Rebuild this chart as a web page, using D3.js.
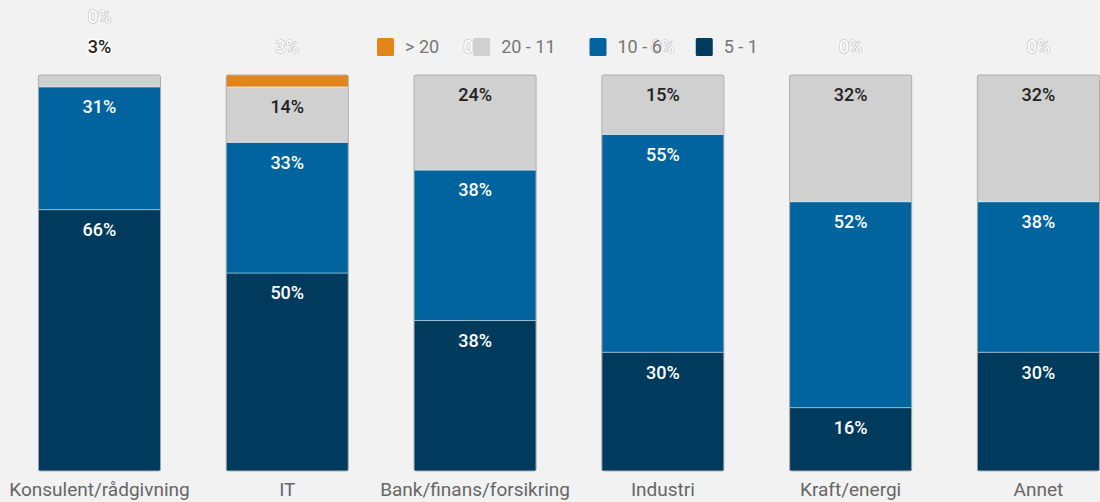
<!DOCTYPE html>
<html>
<head>
<meta charset="utf-8">
<script src="https://cdn.jsdelivr.net/npm/d3@7"></script>
<style>
  html, body { margin: 0; padding: 0; background: #f2f2f2; }
  svg { display: block; font-family: Roboto, "Noto Sans", sans-serif; }
</style>
</head>
<body>
<svg id="chart"></svg>
<script>
// ── data ────────────────────────────────────────────────────────────────
const categories = ['Konsulent/rådgivning', 'IT', 'Bank/finans/forsikring', 'Industri', 'Kraft/energi', 'Annet'];
const seriesNames = ['5 - 1', '10 - 6', '20 - 11', '> 20'];   // bottom → top
const v5to1   = [66, 50, 38, 30, 16, 30];
const v10to6  = [31, 33, 38, 55, 52, 38];
const v20to11 = [3, 14, 24, 15, 32, 32];
const vOver20 = [0, 3, 0, 0, 0, 0];
const legendOrder = ['> 20', '20 - 11', '10 - 6', '5 - 1'];

const COLORS = { '5 - 1': '#003a5c', '10 - 6': '#01649f', '20 - 11': '#d0d0d0', '> 20': '#e2861b' };
const LABEL_COLORS = { '5 - 1': '#ffffff', '10 - 6': '#ffffff', '20 - 11': '#222222', '> 20': '#ffffff' };

const W = 1100, H = 502;
const svg = d3.select('#chart').attr('width', W).attr('height', H);

const rows = categories.map((c, i) => ({
  cat: c, '5 - 1': v5to1[i], '10 - 6': v10to6[i], '20 - 11': v20to11[i], '> 20': vOver20[i],
}));
const stacked = d3.stack().keys(seriesNames)(rows);

const x = d3.scaleBand().domain(categories).range([6.5, 1131.4])
  .paddingInner(0.35).paddingOuter(0.17);
const y = d3.scaleLinear().domain([0, 100]).range([471, 75]);

// ── bars ────────────────────────────────────────────────────────────────
const g = svg.append('g');
stacked.forEach(s => {
  g.append('g').selectAll('rect').data(s).join('rect')
    .attr('x', d => x(d.data.cat))
    .attr('y', d => y(d[1]))
    .attr('width', x.bandwidth())
    .attr('height', d => Math.max(0, y(d[0]) - y(d[1])))
    .attr('fill', COLORS[s.key])
    .attr('stroke', 'rgba(255,255,255,0.4)')
    .attr('stroke-width', 1);
});
// thin outline round each whole bar
g.append('g').selectAll('rect').data(categories).join('rect')
  .attr('x', d => x(d)).attr('y', y(100))
  .attr('width', x.bandwidth()).attr('height', y(0) - y(100))
  .attr('fill', 'none').attr('stroke', '#9c9c9c').attr('stroke-width', 0.8).attr('rx', 2);

// ── data labels: inside the segment top, or stacked above the bar if too small ─
const labels = [];
categories.forEach((c, i) => {
  let slot = 0;
  stacked.forEach(s => {
    const d = s[i];
    const v = d[1] - d[0];
    const cx = x(c) + x.bandwidth() / 2;
    if (v >= 5) {
      labels.push({ x: cx, y: y(d[1]) + 20, text: v + '%', key: s.key, outside: false });
    } else {
      labels.push({ x: cx, y: y(100) - 28 - slot * 30, text: v + '%', key: s.key, outside: true });
      slot++;
    }
  });
});

svg.append('g').selectAll('text').data(labels).join('text')
  .attr('x', d => d.x).attr('y', d => d.y)
  .attr('dy', '0.35em')
  .attr('text-anchor', 'middle')
  .attr('font-size', 18)
  .attr('font-weight', 500)
  .attr('fill', d => LABEL_COLORS[d.key])
  .attr('stroke', d => d.outside ? (LABEL_COLORS[d.key] === '#ffffff' ? '#b0b0b0' : '#ffffff') : 'none')
  .attr('stroke-width', d => d.outside ? (LABEL_COLORS[d.key] === '#ffffff' ? 1 : 3) : 0)
  .attr('stroke-linejoin', 'round')
  .attr('paint-order', 'stroke')
  .text(d => d.text);

// ── category axis ───────────────────────────────────────────────────────
const xAxis = svg.append('g').attr('transform', `translate(0, ${y(0)})`)
  .call(d3.axisBottom(x).tickSize(0).tickPadding(12));
xAxis.select('.domain').remove();
xAxis.selectAll('text')
  .attr('font-family', 'Roboto, "Noto Sans", sans-serif')
  .attr('font-size', 19)
  .attr('fill', '#666');

// ── legend ──────────────────────────────────────────────────────────────
const legend = svg.append('g').attr('transform', 'translate(377, 47)');
let lx = 0;
legendOrder.forEach(k => {
  const item = legend.append('g').attr('transform', `translate(${lx}, 0)`);
  item.append('rect').attr('x', 0).attr('y', -9).attr('width', 17).attr('height', 18)
    .attr('rx', 1.5).attr('fill', COLORS[k]);
  const t = item.append('text').attr('x', 28).attr('dy', '0.35em')
    .attr('font-size', 18).attr('fill', '#777').text(k);
  lx += 28 + t.node().getComputedTextLength() + 34;
});
</script>
</body>
</html>
